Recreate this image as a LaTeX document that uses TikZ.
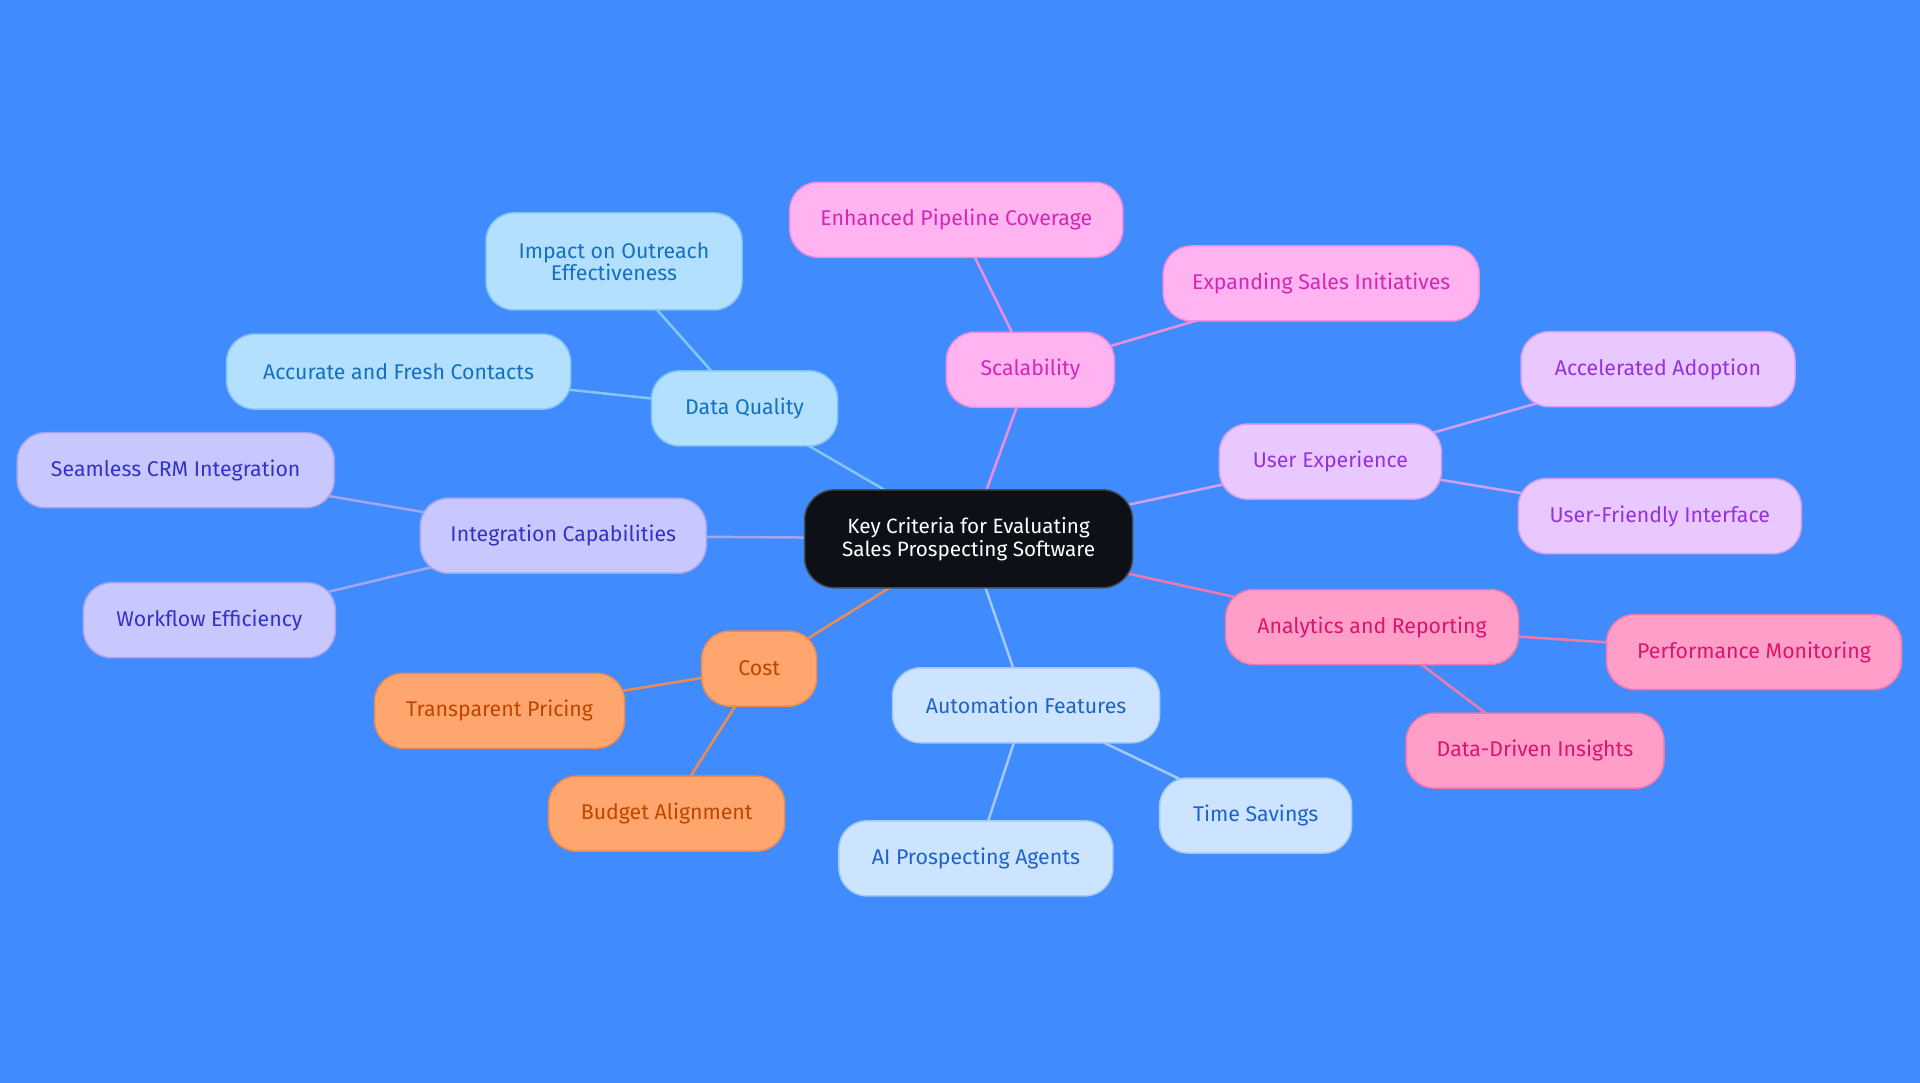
\documentclass[tikz,border=0pt]{standalone}
\usepackage{fontspec}
\setmainfont{Fira Sans}
\usetikzlibrary{backgrounds}
\definecolor{bg}{RGB}{64,140,255}
\definecolor{cfill}{RGB}{13,17,23}
\definecolor{cline}{RGB}{70,74,80}
\definecolor{dqfill}{RGB}{179,224,255}
\definecolor{dqline}{RGB}{135,198,240}
\definecolor{dqtext}{RGB}{21,112,192}
\definecolor{scfill}{RGB}{255,179,240}
\definecolor{scline}{RGB}{240,140,220}
\definecolor{sctext}{RGB}{210,40,180}
\definecolor{uxfill}{RGB}{232,200,255}
\definecolor{uxline}{RGB}{210,160,240}
\definecolor{uxtext}{RGB}{150,50,220}
\definecolor{anfill}{RGB}{255,158,200}
\definecolor{anline}{RGB}{240,120,170}
\definecolor{antext}{RGB}{220,20,110}
\definecolor{aufill}{RGB}{204,228,255}
\definecolor{auline}{RGB}{165,202,242}
\definecolor{autext}{RGB}{30,100,200}
\definecolor{cofill}{RGB}{255,165,110}
\definecolor{coline}{RGB}{238,138,80}
\definecolor{cotext}{RGB}{190,70,0}
\definecolor{igfill}{RGB}{200,200,255}
\definecolor{igline}{RGB}{165,165,240}
\definecolor{igtext}{RGB}{50,50,200}
\begin{document}
\begin{tikzpicture}[x=1pt,y=-1pt,
  box/.style={rounded corners=28pt, draw, line width=1.5pt, minimum height=75pt,
    inner sep=0pt, align=center, font=\fontsize{21.3}{22}\selectfont},
  centerbox/.style={box, fill=cfill, draw=cline, text=white, rounded corners=30pt,
    minimum width=328pt, minimum height=98pt, font=\fontsize{20.7}{23}\selectfont},
  dqbox/.style={box, fill=dqfill, draw=dqline, text=dqtext},
  scbox/.style={box, fill=scfill, draw=scline, text=sctext},
  uxbox/.style={box, fill=uxfill, draw=uxline, text=uxtext},
  anbox/.style={box, fill=anfill, draw=anline, text=antext},
  aubox/.style={box, fill=aufill, draw=auline, text=autext},
  cobox/.style={box, fill=cofill, draw=coline, text=cotext},
  igbox/.style={box, fill=igfill, draw=igline, text=igtext},
  link/.style={line width=2.5pt}
]
\useasboundingbox (0,0) rectangle (1920,1083);
\begin{scope}[on background layer]
\fill[bg] (0,0) rectangle (1920,1083);
\end{scope}

\node[centerbox] (c) at (968.6,538.8) {Key Criteria for Evaluating\\Sales Prospecting Software};

\node[dqbox, minimum width=186pt] (dq) at (744.5,408.4) {Data Quality};
\node[dqbox, minimum width=256pt, minimum height=97pt] (impact) at (614,261.4) {Impact on Outreach\\Effectiveness};
\node[dqbox, minimum width=344pt] (accurate) at (398.6,371.6) {Accurate and Fresh Contacts};

\node[igbox, minimum width=286pt] (integ) at (563.3,535.7) {Integration Capabilities};
\node[igbox, minimum width=317pt] (seamless) at (175.7,470.2) {Seamless CRM Integration};
\node[igbox, minimum width=252pt] (workflow) at (209.4,620.2) {Workflow Efficiency};

\node[cobox, minimum width=115pt] (cost) at (759.2,668.6) {Cost};
\node[cobox, minimum width=250pt] (transp) at (499.6,710.8) {Transparent Pricing};
\node[cobox, minimum width=236pt] (budget) at (666.7,813.7) {Budget Alignment};

\node[aubox, minimum width=267pt] (auto) at (1026.1,705.3) {Automation Features};
\node[aubox, minimum width=274pt] (agents) at (975.9,858.4) {AI Prospecting Agents};
\node[aubox, minimum width=192pt] (time) at (1255.7,815.5) {Time Savings};

\node[anbox, minimum width=293pt] (analytics) at (1372,627) {Analytics and Reporting};
\node[anbox, minimum width=295pt] (perf) at (1754,652) {Performance Monitoring};
\node[anbox, minimum width=258pt] (insights) at (1535,750.6) {Data-Driven Insights};

\node[uxbox, minimum width=222pt] (uxn) at (1330.4,461.6) {User Experience};
\node[uxbox, minimum width=274pt] (accel) at (1658,369.2) {Accelerated Adoption};
\node[uxbox, minimum width=283pt] (friendly) at (1659.8,516.1) {User-Friendly Interface};

\node[scbox, minimum width=168pt] (scal) at (1030.4,369.8) {Scalability};
\node[scbox, minimum width=333pt] (pipeline) at (956.3,219.8) {Enhanced Pipeline Coverage};
\node[scbox, minimum width=316pt] (expand) at (1321.2,283.5) {Expanding Sales Initiatives};

\begin{scope}[on background layer]
\draw[link, dqline] (c.center) -- (dq.center);
\draw[link, dqline] (dq.center) -- (impact.center);
\draw[link, dqline] (dq.center) -- (accurate.center);
\draw[link, igline] (c.center) -- (integ.center);
\draw[link, igline] (integ.center) -- (seamless.center);
\draw[link, igline] (integ.center) -- (workflow.center);
\draw[link, coline] (c.center) -- (cost.center);
\draw[link, coline] (cost.center) -- (transp.center);
\draw[link, coline] (cost.center) -- (budget.center);
\draw[link, auline] (c.center) -- (auto.center);
\draw[link, auline] (auto.center) -- (agents.center);
\draw[link, auline] (auto.center) -- (time.center);
\draw[link, anline] (c.center) -- (analytics.center);
\draw[link, anline] (analytics.center) -- (perf.center);
\draw[link, anline] (analytics.center) -- (insights.center);
\draw[link, uxline] (c.center) -- (uxn.center);
\draw[link, uxline] (uxn.center) -- (accel.center);
\draw[link, uxline] (uxn.center) -- (friendly.center);
\draw[link, scline] (c.center) -- (scal.center);
\draw[link, scline] (scal.center) -- (pipeline.center);
\draw[link, scline] (scal.center) -- (expand.center);
\end{scope}
\end{tikzpicture}
\end{document}
